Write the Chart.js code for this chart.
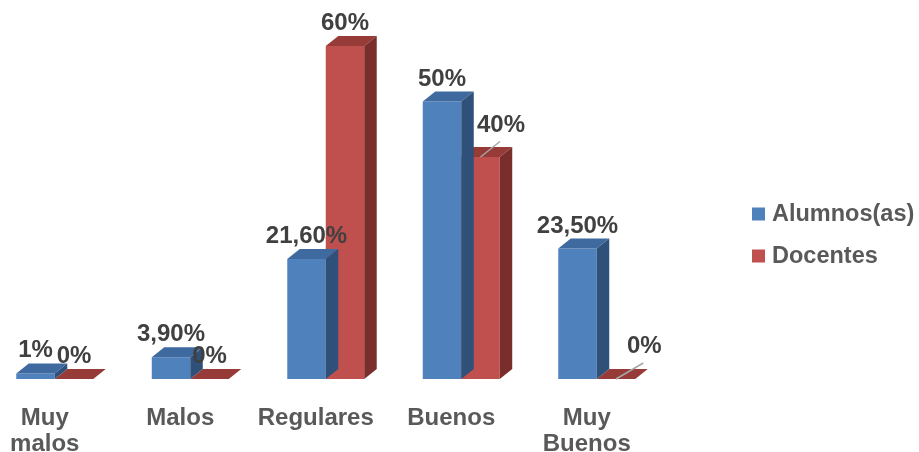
<!DOCTYPE html>
<html>
<head>
<meta charset="utf-8">
<script src="https://cdn.jsdelivr.net/npm/chart.js@4.4.1/dist/chart.umd.min.js"></script>
<style>
  html, body { margin: 0; padding: 0; background: #ffffff; overflow: hidden; width: 919px; height: 452px; }
  #wrap { position: absolute; left: -13px; top: 0; width: 932px; height: 452px; }
</style>
</head>
<body>
<div id="wrap"><canvas id="c"></canvas></div>
<script>
// ---- data ----
const categories = [["Muy", "malos"], "Malos", "Regulares", "Buenos", ["Muy", "Buenos"]];
const seriesNames = ["Alumnos(as)", "Docentes"];
const alumnos = [1, 3.9, 21.6, 50, 23.5];
const docentes = [0, 0, 60, 40, 0];

// ---- styles ----
const FONT = '"Liberation Sans", Arial, sans-serif';
const frontColors = ["#4F81BD", "#C0504D"];
const topColors = ["#3E6A9F", "#963B38"];
const sideColors = ["#2F5179", "#7A2E2C"];

function fmt(v) {
  return (Number.isInteger(v) ? String(v) : v.toFixed(2).replace('.', ',')) + '%';
}

const bar3d = {
  id: 'bar3d',
  afterDatasetDraw(chart, args, opts) {
    const ctx = chart.ctx;
    const i = args.index;
    const dx = opts.dx, dy = opts.dy;
    ctx.save();
    args.meta.data.forEach(bar => {
      const p = bar.getProps(['x', 'y', 'base', 'width'], true);
      const l = p.x - p.width / 2, r = p.x + p.width / 2;
      const top = Math.min(p.y, p.base), bot = Math.max(p.y, p.base);
      // top face
      ctx.fillStyle = topColors[i];
      ctx.beginPath();
      ctx.moveTo(l, top); ctx.lineTo(r, top); ctx.lineTo(r + dx, top - dy); ctx.lineTo(l + dx, top - dy);
      ctx.closePath(); ctx.fill();
      // side face
      if (bot - top > 0.01) {
        ctx.fillStyle = sideColors[i];
        ctx.beginPath();
        ctx.moveTo(r, top); ctx.lineTo(r + dx, top - dy); ctx.lineTo(r + dx, bot - dy); ctx.lineTo(r, bot);
        ctx.closePath(); ctx.fill();
      }
    });
    ctx.restore();
  },
  afterDatasetsDraw(chart, args, opts) {
    const ctx = chart.ctx;
    ctx.save();
    ctx.font = 'bold 24px ' + FONT;
    ctx.textAlign = 'center';
    ctx.textBaseline = 'alphabetic';
    chart.data.datasets.forEach((ds, i) => {
      const meta = chart.getDatasetMeta(i);
      meta.data.forEach((bar, j) => {
        const p = bar.getProps(['x', 'y'], true);
        const off = (opts.offsets[i] && opts.offsets[i][j]) || null;
        let lx = p.x, ly = p.y - opts.gap;
        if (off) {
          lx += off[0]; ly += off[1];
          ctx.strokeStyle = '#A6A6A6';
          ctx.lineWidth = 1.5;
          ctx.beginPath();
          ctx.moveTo(p.x, p.y);
          ctx.lineTo(lx - 1, ly + 10);
          ctx.stroke();
        }
        ctx.fillStyle = '#404040';
        ctx.fillText(fmt(ds.data[j]), lx, ly);
      });
    });
    ctx.restore();
  },
  afterDraw(chart, args, opts) {
    const ctx = chart.ctx;
    ctx.save();
    ctx.font = 'bold 23.5px ' + FONT;
    ctx.textAlign = 'left';
    ctx.textBaseline = 'middle';
    chart.data.datasets.forEach((ds, i) => {
      const y = opts.legendY + i * opts.legendGap;
      ctx.fillStyle = ds.backgroundColor;
      ctx.fillRect(opts.legendX, y - 6.5, 13, 13);
      ctx.fillStyle = '#595959';
      ctx.fillText(ds.label, opts.legendX + 20, y + 1);
    });
    ctx.restore();
  }
};

new Chart(document.getElementById('c'), {
  type: 'bar',
  data: {
    labels: categories,
    datasets: [
      { label: seriesNames[0], data: alumnos, backgroundColor: frontColors[0] },
      { label: seriesNames[1], data: docentes, backgroundColor: frontColors[1] }
    ]
  },
  options: {
    responsive: true,
    maintainAspectRatio: false,
    animation: false,
    layout: { padding: { left: 0, right: 254.5, top: 0, bottom: 0 } },
    categoryPercentage: 0.568,
    barPercentage: 1.0,
    plugins: {
      legend: { display: false },
      tooltip: { enabled: false },
      bar3d: {
        dx: 12.5, dy: 10, gap: 16,
        offsets: { 1: { 3: [20.5, -9.5], 4: [28.3, -10] } },
        legendX: 765, legendY: 214, legendGap: 42
      }
    },
    scales: {
      x: {
        grid: { display: false, drawTicks: false },
        border: { display: false },
        ticks: {
          color: '#595959',
          font: { family: FONT, size: 24, weight: 'bold', lineHeight: 1.08 },
          padding: 26,
          labelOffset: -10,
          maxRotation: 0, autoSkip: false
        },
        afterFit(scale) { scale.height = 73; }
      },
      y: {
        display: false,
        min: 0,
        max: 68.29
      }
    }
  },
  plugins: [bar3d]
});
</script>
</body>
</html>
